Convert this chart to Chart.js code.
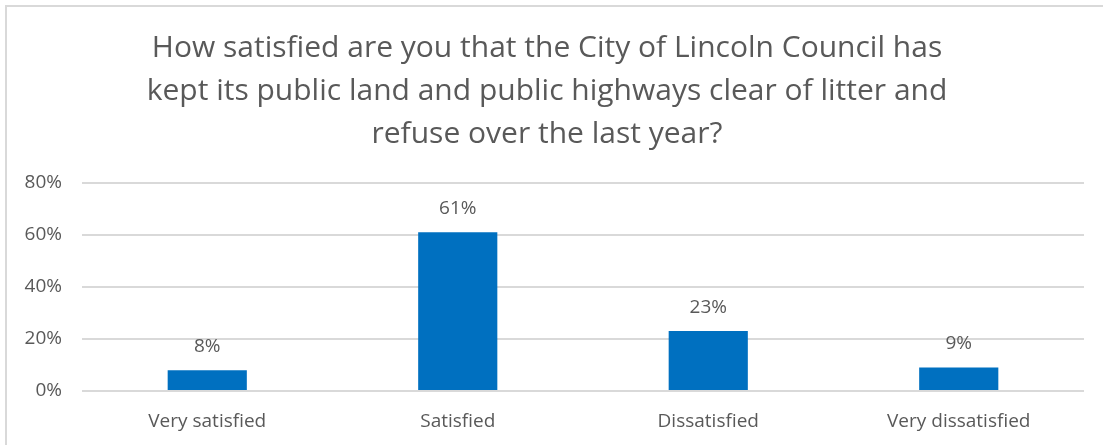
<!DOCTYPE html>
<html>
<head>
<meta charset="utf-8">
<script src="https://cdn.jsdelivr.net/npm/chart.js@4"></script>
<style>
html,body{margin:0;padding:0;background:#fff;}
#wrap{position:absolute;left:5px;top:5px;width:1110px;height:460px;border:2px solid #d9d9d9;box-sizing:border-box;}
#c{position:absolute;left:0;top:0;}
</style>
</head>
<body>
<div id="wrap"></div>
<canvas id="c" width="1103" height="445"></canvas>
<script>
const categories = ["Very satisfied", "Satisfied", "Dissatisfied", "Very dissatisfied"];
const values = [8, 61, 23, 9];
const titleLines = [
  "How satisfied are you that the City of Lincoln Council has",
  "kept its public land and public highways clear of litter and",
  "refuse over the last year?"
];
const yTicks = [0, 20, 40, 60, 80];

const FONT = "'Open Sans', Lato, sans-serif";
const GRAY = "#595959";

const labelPlugin = {
  id: 'barLabels',
  afterDatasetsDraw(chart) {
    const ctx = chart.ctx;
    const meta = chart.getDatasetMeta(0);
    ctx.save();
    ctx.font = "19px " + FONT;
    ctx.fillStyle = GRAY;
    ctx.textAlign = 'center';
    ctx.textBaseline = 'middle';
    meta.data.forEach((bar, i) => {
      ctx.fillText(values[i] + '%', bar.x, bar.y - 24);
    });
    ctx.restore();
  }
};

new Chart(document.getElementById('c'), {
  type: 'bar',
  data: {
    labels: categories,
    datasets: [{
      data: values,
      backgroundColor: '#0070C0',
      borderWidth: 0,
      barPercentage: 0.316,
      categoryPercentage: 1.0
    }]
  },
  options: {
    responsive: false,
    animation: false,
    devicePixelRatio: 1,
    layout: { padding: { left: 10, right: 19, top: 27, bottom: 13 } },
    plugins: {
      legend: { display: false },
      tooltip: { enabled: false },
      title: {
        display: true,
        text: titleLines,
        color: GRAY,
        font: { family: FONT, size: 30, weight: 'normal', lineHeight: 1.43 },
        padding: { top: 0, bottom: 27 }
      }
    },
    scales: {
      x: {
        afterFit(scale) { scale.height = 41; },
        grid: { display: false, drawTicks: false },
        border: { display: false },
        ticks: { color: GRAY, font: { family: FONT, size: 19, lineHeight: 1.1 }, padding: 20, maxRotation: 0 }
      },
      y: {
        min: 0, max: 80,
        afterBuildTicks(scale) { scale.ticks = yTicks.map(v => ({ value: v })); },
        afterFit(scale) { scale.width = 72; },
        grid: { color: '#d9d9d9', lineWidth: 2, drawTicks: false },
        border: { display: false },
        ticks: {
          color: GRAY, font: { family: FONT, size: 19 }, padding: 20,
          callback: v => v + '%'
        }
      }
    }
  },
  plugins: [labelPlugin]
});
</script>
</body>
</html>
